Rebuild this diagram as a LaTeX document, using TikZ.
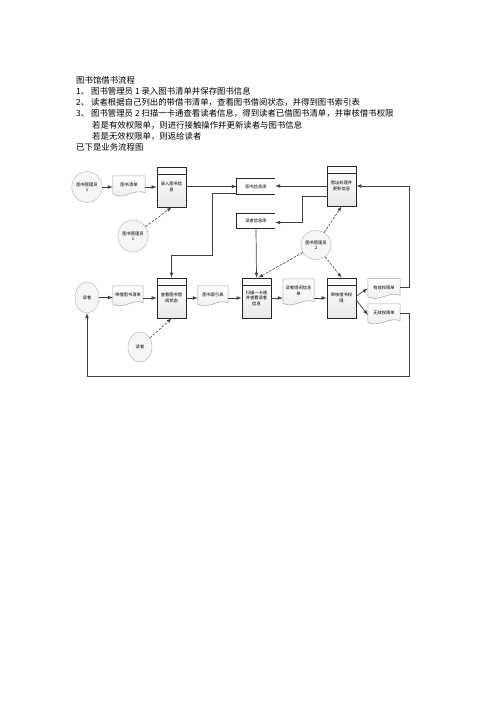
\documentclass[tikz,border=0pt]{standalone}
\usepackage{fontspec}
\setmainfont{Noto Sans CJK SC}
\usetikzlibrary{arrows,shapes,calc,backgrounds,positioning}
\newcommand{\nodefont}{\fontsize{4.3pt}{5.4pt}\selectfont}
\newcommand{\bodyfont}{\fontsize{8.4pt}{10pt}\selectfont}
\newcommand{\docshape}[1]{\draw[docline] (#1.south west) -- (#1.north west) -- (#1.north east) -- ([yshift=1.5pt]#1.south east) .. controls ([xshift=5pt,yshift=6pt]#1.south) and ([xshift=-5pt,yshift=-6pt]#1.south) .. (#1.south west) -- cycle;}
\newcommand{\prochead}[1]{\draw[thick,black!85] ([yshift=-8pt]#1.north west) -- ([yshift=-8pt]#1.north east);}
\newcommand{\storelines}[1]{\draw[thick,black!85] (#1.north east) -- (#1.north west) -- (#1.south west) -- (#1.south east);}
\tikzset{proc/.style={
            draw=black!85,
            top color=white,
            bottom color=gray!18,
            thick,
            inner sep=0pt,
            minimum width=29pt,
            minimum height=40pt,
            align=center,
            font=\nodefont
        },
        doc/.style={
            inner sep=0pt,
            minimum width=32pt,
            minimum height=18pt,
            align=center,
            font=\nodefont
        },
        docline/.style={
            draw=gray!70,
            top color=white,
            bottom color=gray!15,
            line width=0.5pt
        },
        actor/.style={
            draw=gray!60,
            ellipse,
            fill=gray!8,
            inner sep=0pt,
            minimum width=25pt,
            minimum height=31pt,
            align=center,
            font=\nodefont
        },
        store/.style={
            inner sep=0pt,
            minimum width=38pt,
            minimum height=15pt,
            font=\nodefont
        },
        flow/.style={
            ->,
            >=latex,
            draw=black!75,
            line width=0.7pt
        },
        dflow/.style={
            ->,
            >=latex,
            draw=black!75,
            dash pattern=on 2.5pt off 1.5pt,
            line width=0.6pt
        },
        body/.style={
            anchor=west,
            inner sep=0pt,
            font=\bodyfont
        }
    }

\begin{document}
\begin{tikzpicture}[x=1pt,y=-1pt]
        \useasboundingbox (0,0) rectangle (496,702);
        \node[body] (title) at (76,80) {图书馆借书流程};
        \node[body] (step1) at (76,91) {1、\ 图书管理员 1 录入图书清单并保存图书信息};
        \node[body] (step2) at (76,102) {2、\ 读者根据自己列出的带借书清单，查看图书借阅状态，并得到图书索引表};
        \node[body] (step3) at (76,113) {3、\ 图书管理员 2 扫描一卡通查看读者信息，得到读者已借图书清单，并审核借书权限};
        \node[body] (case1) at (92,125) {若是有效权限单，则进行接触操作并更新读者与图书信息};
        \node[body] (case2) at (92,136) {若是无效权限单，则返给读者};
        \node[body] (lead) at (76,147) {已下是业务流程图};

        \node[actor] (lib1) at (87,187) {图书管理员\\1};
        \node[doc] (booklist) at (129,185) {图书清单};
        \node[proc] (entry) at (171.5,187) {录入图书信\\息};
        \node[store] (bookdb) at (256,186.5) {图书信息库};
        \node[store] (readerdb) at (256,221) {读者信息库};
        \node[proc] (lend) at (341.5,186) {借出处理并\\更新信息};
        \node[actor,minimum width=24pt,minimum height=32pt] (lib1b) at (133,236) {图书管理员\\1};
        \node[actor,minimum height=29pt] (lib2) at (316,245) {图书管理员\\2};

        \node[actor,minimum width=24pt] (reader) at (87,297.5) {读者};
        \node[doc,minimum width=30pt] (wantlist) at (128,295) {带借图书清单};
        \node[proc] (check) at (171.5,298) {查看图书借\\阅状态};
        \node[doc,minimum width=30pt] (index) at (213,295) {图书索引表};
        \node[proc] (scan) at (256.5,298) {扫描一卡通\\并查看读者\\信息};
        \node[doc,minimum width=31pt,minimum height=24pt] (borrowinfo) at (298.5,291) {读者借阅信息\\单};
        \node[proc] (audit) at (341.5,298) {审核借书权\\限};
        \node[doc] (valid) at (384,287.5) {有效权限单};
        \node[doc] (invalid) at (384,313) {无效权限单};
        \node[actor,minimum width=24pt,minimum height=30pt] (reader2) at (140,347) {读者};

        \begin{scope}[on background layer]
            \docshape{booklist}
            \docshape{wantlist}
            \docshape{index}
            \docshape{borrowinfo}
            \docshape{valid}
            \docshape{invalid}
        \end{scope}
        \prochead{entry}
        \prochead{lend}
        \prochead{check}
        \prochead{scan}
        \prochead{audit}
        \storelines{bookdb}
        \storelines{readerdb}

        \coordinate (bend) at (212,255);
        \coordinate (loop) at (409,376);
        \draw[flow] (lib1.east) -- (lib1.east -| booklist.west);
        \draw[flow] (booklist.east |- entry.west) -- (entry.west);
        \draw[flow] ([yshift=0.5pt]entry.east) -- ([yshift=0.5pt]entry.east -| bookdb.west);
        \draw[flow] (lend.west) -- (lend.west -| bookdb.east);
        \draw[flow] ([yshift=-10pt]lend.west) -| ($(lend.west)!0.48!(readerdb.east)$) |- ([yshift=-1.5pt]readerdb.east);
        \draw[flow] ([yshift=-6.5pt]bookdb.west) -| (bend) -| (check.north);
        \draw[flow] (readerdb.south) -- (scan.north);
        \draw[dflow] (lib1b) -- (entry.south);
        \draw[dflow] (lib2) -- (lend.south);
        \draw[dflow] (lib2) -- ([xshift=2pt]scan.north);
        \draw[dflow] (lib2) -- (audit.north);

        \draw[flow] (reader.east) -- (reader.east -| wantlist.west);
        \draw[flow] (wantlist.east |- check.west) -- (check.west);
        \draw[flow] (check.east) -- (check.east -| index.west);
        \draw[flow] (index.east |- scan.west) -- (scan.west);
        \draw[flow] (scan.east) -- (scan.east -| borrowinfo.west);
        \draw[flow] (borrowinfo.east |- audit.west) -- (audit.west);
        \draw[flow] ([yshift=2pt]audit.east) -- ([yshift=-1pt]valid.west);
        \draw[flow] ([yshift=-2pt]audit.east) -- ([yshift=-2pt]invalid.west);
        \draw[flow] (valid.east) -- ++(9,0) |- (lend.east);
        \draw[flow] (invalid.east) -| (loop) -| (reader.south);
        \draw[dflow] (reader2) -- (check.south);
    \end{tikzpicture}
\end{document}
